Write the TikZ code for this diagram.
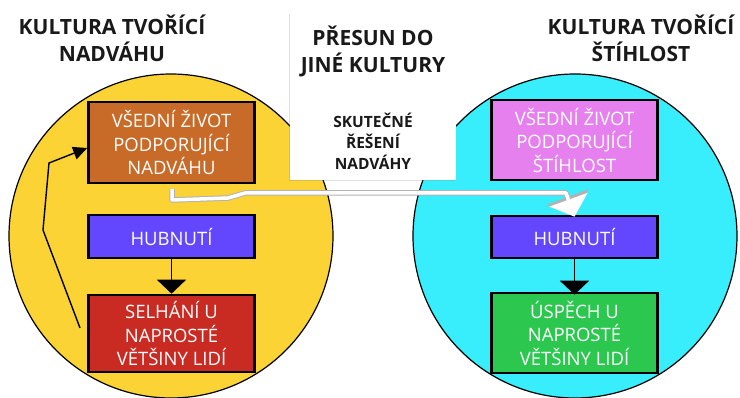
\documentclass[tikz,border=0pt]{standalone}
\usepackage{fontspec}
\setmainfont{Open Sans}
\usetikzlibrary{arrows.meta,shadows}
\definecolor{cyel}{HTML}{FCD334}
\definecolor{ccya}{HTML}{38EEFD}
\definecolor{cbrn}{HTML}{C86A28}
\definecolor{cpur}{HTML}{6247FF}
\definecolor{cred}{HTML}{C92A22}
\definecolor{cpnk}{HTML}{E680EE}
\definecolor{cgrn}{HTML}{2BC74F}
\tikzset{
  culture/.style={circle,draw=black,line width=1.2pt,minimum size=324pt,inner sep=0pt},
  stepbox/.style={draw=black,line width=2.6pt,minimum width=166pt,text=white,align=center,
    font=\fontsize{18.5}{23.5}\selectfont,inner sep=0pt},
  ttl/.style={align=center,font=\bfseries\fontsize{21}{27}\selectfont,text=black!90},
  darrow/.style={line width=1.8pt,-{Triangle[width=29pt,length=14pt]}},
  rarrow/.style={line width=1.4pt,-{Triangle[width=13pt,length=14pt]}}
}
\begin{document}
\begin{tikzpicture}[x=1pt,y=-1pt]
\useasboundingbox (0,0) rectangle (740,398);
\fill[white] (0,0) rectangle (740,398);
% circles
\node[culture,fill=cyel] (cl) at (171,236) {};
\node[culture,fill=ccya] (cr) at (575,236) {};
% titles
\node[ttl] (tl) at (112,38) {KULTURA TVOŘÍCÍ\\NADVÁHU};
\node[ttl] (tr) at (641,38) {KULTURA TVOŘÍCÍ\\ŠTÍHLOST};
% centre box
\node[fill=white,minimum width=166pt,minimum height=167pt,inner sep=0pt,
  drop shadow={shadow xshift=-1pt,shadow yshift=-1.5pt,opacity=0.25}] (mid) at (373,96.5) {};
\node[ttl,font=\bfseries\fontsize{21}{27}\selectfont] (midt) at (373,51) {PŘESUN DO\\JINÉ KULTURY};
\node[ttl,font=\bfseries\fontsize{15.5}{21}\selectfont] (mids) at (373,141) {SKUTEČNÉ\\ŘEŠENÍ\\NADVÁHY};
% left boxes
\node[stepbox,fill=cbrn,minimum height=81pt] (vl) at (171.5,142.5) {VŠEDNÍ ŽIVOT\\PODPORUJÍCÍ\\NADVÁHU};
\node[stepbox,fill=cpur,minimum height=43pt] (hl) at (171.5,236.5) {HUBNUTÍ};
\node[stepbox,fill=cred,minimum height=77pt] (sl) at (171.5,333.5) {SELHÁNÍ U\\NAPROSTÉ\\VĚTŠINY LIDÍ};
% right boxes
\node[stepbox,fill=cpnk,minimum height=80pt] (vr) at (574.5,140) {VŠEDNÍ ŽIVOT\\PODPORUJÍCÍ\\ŠTÍHLOST};
\node[stepbox,fill=cpur,minimum height=42pt] (hr) at (574.5,237) {HUBNUTÍ};
\node[stepbox,fill=cgrn,minimum height=80pt] (ur) at (574.5,333) {ÚSPĚCH U\\NAPROSTÉ\\VĚTŠINY LIDÍ};
% down arrows
\draw[darrow] (hl.south) -- (sl.north);
\draw[darrow] (hr.south) -- ([yshift=-3pt]ur.north);
% return arrow
\coordinate (r0) at (80,328);
\coordinate (r1) at (43,230);
\coordinate (r2) at (49,163);
\draw[rarrow] (r0) -- (r1) -- (r2) -- ([yshift=-3pt]vl.west |- 0,145);
% white transfer arrow
\coordinate (w0) at (172,189);
\coordinate (w1) at (172,200);
\coordinate (w2) at (228,198);
\coordinate (w3) at (245,193);
\coordinate (w4) at (566,193);
\draw[black!30,line width=5.5pt,line join=round,-{Triangle[width=44pt,length=20pt]}]
  (w0) -- (w1) -- (w2) -- (w3) -- (w4) -- ([yshift=-1pt]hr.north);
\draw[white,line width=3.5pt,line join=round,-{Triangle[width=40pt,length=18pt]}]
  (w0) -- (w1) -- (w2) -- (w3) -- (w4) -- ([yshift=-2pt]hr.north);
\end{tikzpicture}
\end{document}
